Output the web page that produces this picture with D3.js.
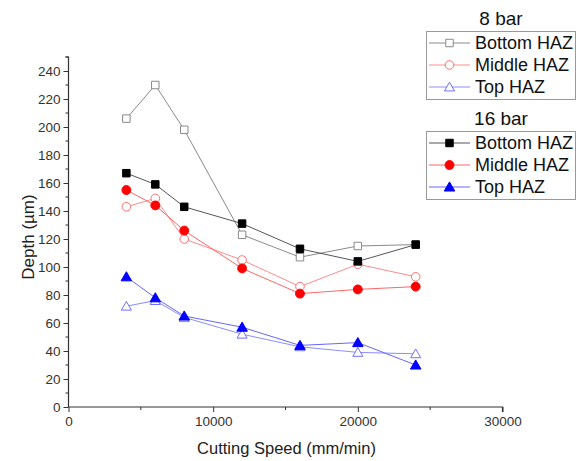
<!DOCTYPE html>
<html>
<head>
<meta charset="utf-8">
<script src="https://cdn.jsdelivr.net/npm/d3@7"></script>
<style>
  body { margin: 0; background: #fff; }
  svg { font-family: "Liberation Sans", Arial, sans-serif; }
</style>
</head>
<body>
<svg id="chart" width="576" height="461"></svg>
<script>
// cutting speed (mm/min)
const speeds = [4000, 6000, 8000, 12000, 16000, 20000, 24000];

// 8 bar, open markers
const bottom8 = [206, 230, 198, 123, 107, 115, 116];
const middle8 = [143, 149, 120, 105, 86, 102, 93];
const top8 = [72, 76, 64, 52, 43, 39, 38];

// 16 bar, filled markers
const bottom16 = [167, 159, 143, 131, 113, 104, 116];
const middle16 = [155, 144, 126, 99, 81, 84, 86];
const top16 = [93, 78, 65, 57, 44, 46, 30];

const xTicks = [0, 10000, 20000, 30000];
const yTicks = [0, 20, 40, 60, 80, 100, 120, 140, 160, 180, 200, 220, 240];

const svg = d3.select('#chart');

const x = d3.scaleLinear().domain([0, 30000]).range([68.5, 502.5]);
const y = d3.scaleLinear().domain([0, 250]).range([407, 57]);

// axes
var xAxis = d3.axisBottom(x).tickValues(xTicks).tickSize(5).tickPadding(4).tickFormat(d3.format('d'));
var yAxis = d3.axisLeft(y).tickValues(yTicks).tickSize(5).tickPadding(3);

var gx = svg.append('g').attr('transform', `translate(0,${ y(0) })`).call(xAxis);
var gy = svg.append('g').attr('transform', `translate(${ x(0) },0)`).call(yAxis);

// minor ticks
svg.append('g').selectAll('line')
    .data(d3.range(5000, 30000, 10000))
    .enter().append('line')
    .attr('x1', d => x(d)).attr('x2', d => x(d))
    .attr('y1', y(0)).attr('y2', y(0) + 3)
    .attr('stroke', '#333');
svg.append('g').selectAll('line')
    .data(d3.range(10, 260, 20))
    .enter().append('line')
    .attr('y1', d => y(d)).attr('y2', d => y(d))
    .attr('x1', x(0)).attr('x2', x(0) - 3)
    .attr('stroke', '#333');

[gx, gy].forEach(g => {
    g.select('.domain').attr('stroke', '#333').attr('stroke-width', 1.2);
    g.selectAll('.tick line').attr('stroke', '#333');
    g.selectAll('.tick text').attr('font-size', 13.5).attr('fill', '#333')
        .attr('font-family', '"Liberation Sans", Arial, sans-serif');
});
// keep the axis ends flat, like the original
gx.select('.domain').attr('d', `M${ x(0) },0H${ x(30000) }V5`);
gy.select('.domain').attr('d', `M-3,${ y(250) }H0V${ y(0) }`);

svg.append('text')
    .attr('x', (x(0) + x(30000)) / 2 + 1).attr('y', 454)
    .attr('text-anchor', 'middle').attr('font-size', 16.5).attr('fill', '#222')
    .text('Cutting Speed (mm/min)');
svg.append('text')
    .attr('transform', `translate(34,237) rotate(-90)`)
    .attr('text-anchor', 'middle').attr('font-size', 17).attr('fill', '#222')
    .text('Depth (\u00b5m)');

const series = [
    {name: 'Bottom HAZ', values: bottom8, line: '#8a8a8a', mark: '#8a8a8a', fill: '#fff', shape: d3.symbolSquare, size: 56},
    {name: 'Middle HAZ', values: middle8, line: '#ff8c8c', mark: '#ff7070', fill: '#fff', shape: d3.symbolCircle, size: 58},
    {name: 'Top HAZ', values: top8, line: '#8c8cff', mark: '#7070ff', fill: '#fff', shape: d3.symbolTriangle, size: 44},
    {name: 'Bottom HAZ', values: bottom16, line: '#555', mark: '#000', fill: '#000', shape: d3.symbolSquare, size: 56},
    {name: 'Middle HAZ', values: middle16, line: '#ff6666', mark: '#ff0000', fill: '#ff0000', shape: d3.symbolCircle, size: 62},
    {name: 'Top HAZ', values: top16, line: '#6666ff', mark: '#0000ff', fill: '#0000ff', shape: d3.symbolTriangle, size: 48}
];

var line = d3.line()
    .x((d, i) => x(speeds[i]))
    .y(d => y(d));

series.forEach(s => {
    svg.append('path')
        .attr('d', line(s.values))
        .attr('fill', 'none')
        .attr('stroke', s.line)
        .attr('stroke-width', 1);
});

function drawMark(g, s, cx, cy) {
    var dy = s.shape === d3.symbolTriangle ? 1 : 0;
    g.append('path')
        .attr('d', d3.symbol().type(s.shape).size(s.size)())
        .attr('transform', `translate(${ cx },${ cy + dy })`)
        .attr('fill', s.fill)
        .attr('stroke', s.mark)
        .attr('stroke-width', 1);
}

series.forEach(s => {
    var g = svg.append('g');
    s.values.forEach((v, i) => drawMark(g, s, x(speeds[i]), y(v)));
});

// legends
const legendTitles = ['8 bar', '16 bar'];
const legendTops = [31, 131];

legendTitles.forEach((title, k) => {
    var top = legendTops[k];
    var lg = svg.append('g');
    lg.append('text')
        .attr('x', 501).attr('y', top - 6)
        .attr('text-anchor', 'middle').attr('font-size', 19).attr('fill', '#111')
        .text(title);
    lg.append('rect')
        .attr('x', 426.5).attr('y', top + 0.5)
        .attr('width', 149).attr('height', 68)
        .attr('fill', '#fff').attr('stroke', '#999');
    series.slice(k * 3, k * 3 + 3).forEach((s, j) => {
        var cy = top + 12 + j * 22;
        lg.append('line')
            .attr('x1', 429).attr('x2', 470)
            .attr('y1', cy).attr('y2', cy)
            .attr('stroke', s.line);
        drawMark(lg, s, 449.5, cy);
        lg.append('text')
            .attr('x', 475).attr('y', cy + 6)
            .attr('font-size', 18).attr('fill', '#111')
            .text(s.name);
    });
});
</script>
</body>
</html>
